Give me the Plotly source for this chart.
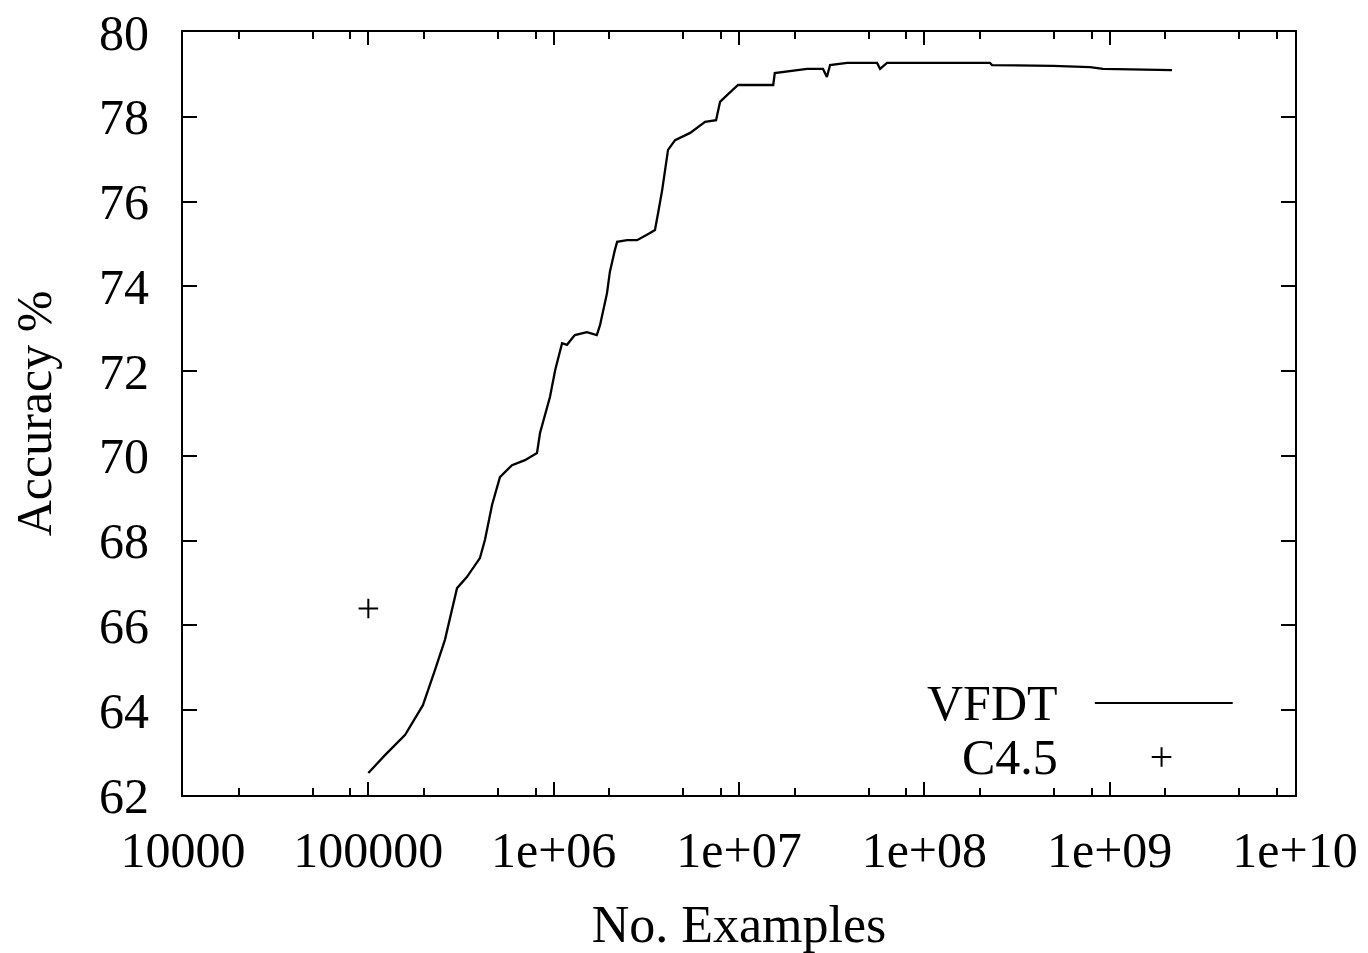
import plotly.graph_objects as go

# VFDT learning curve (No. examples vs accuracy %)
vfdt_x = [1.0e5, 1.23e5, 1.58e5, 1.97e5, 2.29e5, 2.59e5, 3.01e5, 3.40e5, 4.0e5, 4.26e5,
          4.65e5, 5.13e5, 5.96e5, 7.0e5, 8.13e5, 8.44e5, 9.55e5, 1.02e6, 1.11e6, 1.18e6,
          1.30e6, 1.51e6, 1.71e6, 1.78e6, 1.94e6, 2.01e6, 2.14e6, 2.20e6, 2.49e6, 2.82e6,
          3.31e6, 3.52e6, 3.66e6, 3.85e6, 4.14e6, 4.52e6, 5.45e6, 6.56e6, 7.52e6, 7.90e6,
          8.62e6, 9.88e6, 1.25e7, 1.53e7, 1.56e7, 1.88e7, 2.33e7, 2.84e7, 2.98e7, 3.10e7,
          3.83e7, 5.56e7, 5.77e7, 6.29e7, 1.38e8, 2.26e8, 2.32e8, 4.94e8, 7.83e8, 9.21e8,
          2.17e9]
vfdt_y = [62.52, 62.94, 63.42, 64.12, 64.95, 65.66, 66.88, 67.14, 67.59, 68.02,
          68.84, 69.50, 69.78, 69.90, 70.07, 70.54, 71.39, 72.03, 72.66, 72.62,
          72.85, 72.92, 72.85, 73.09, 73.84, 74.34, 74.86, 75.05, 75.09, 75.09,
          75.26, 75.33, 75.73, 76.27, 77.22, 77.45, 77.62, 77.88, 77.92, 78.35,
          78.51, 78.75, 78.75, 78.75, 79.03, 79.08, 79.13, 79.13, 78.94, 79.22,
          79.27, 79.27, 79.13, 79.27, 79.27, 79.27, 79.22, 79.20, 79.17, 79.13,
          79.10]

# C4.5 single result
c45_x = [1.0e5]
c45_y = [66.4]

x_tickvals = [1e4, 1e5, 1e6, 1e7, 1e8, 1e9, 1e10]
x_ticktext = ["10000", "100000", "1e+06", "1e+07", "1e+08", "1e+09", "1e+10"]
x_minor = [m * 10 ** e for e in range(4, 10) for m in (2, 5, 8)]
y_tickvals = [62, 64, 66, 68, 70, 72, 74, 76, 78, 80]

legend_names = ["VFDT", "C4.5"]

FONT = "Liberation Serif"
FS = 50

fig = go.Figure()
fig.add_trace(go.Scatter(x=vfdt_x, y=vfdt_y, mode="lines",
                         line=dict(color="black", width=2.3), showlegend=False))
fig.add_trace(go.Scatter(x=c45_x, y=c45_y, mode="markers",
                         marker=dict(symbol="cross-thin", size=14,
                                     line=dict(color="black", width=2)),
                         showlegend=False))

# legend keys (gnuplot style: text left, sample right) on a hidden 0..1 overlay axis
fig.add_trace(go.Scatter(x=[0.820, 0.944], y=[0.1206, 0.1206], mode="lines",
                         line=dict(color="black", width=2), xaxis="x2", yaxis="y2",
                         showlegend=False, hoverinfo="skip"))
fig.add_trace(go.Scatter(x=[0.880], y=[0.0498], mode="markers",
                         marker=dict(symbol="cross-thin", size=14,
                                     line=dict(color="black", width=2)),
                         xaxis="x2", yaxis="y2", showlegend=False, hoverinfo="skip"))

for name, yp in zip(legend_names, [0.1206, 0.0498]):
    fig.add_annotation(x=0.789, y=yp, xref="paper", yref="paper", text=name,
                       showarrow=False, xanchor="right", yanchor="middle",
                       font=dict(family=FONT, size=FS, color="black"))

axis_common = dict(showgrid=False, zeroline=False, showline=True, linecolor="black",
                   linewidth=2, mirror="allticks", ticks="inside", tickcolor="black",
                   tickwidth=2, automargin=False,
                   tickfont=dict(family=FONT, size=FS, color="black"))

fig.update_layout(
    width=1368, height=953,
    margin=dict(l=183, r=73, t=32, b=158),
    paper_bgcolor="white", plot_bgcolor="white",
    showlegend=False,
    xaxis=dict(type="log", range=[4, 10], tickvals=x_tickvals, ticktext=x_ticktext,
               ticklen=13, ticklabelstandoff=10,
               minor=dict(tickvals=x_minor, ticks="inside", ticklen=7,
                          tickcolor="black", tickwidth=2),
               title=dict(text="No. Examples", font=dict(family=FONT, size=52, color="black"),
                          standoff=30),
               **axis_common),
    yaxis=dict(range=[62, 80], tickvals=y_tickvals, ticklen=14, ticklabelstandoff=22,
               title=dict(text="Accuracy %", font=dict(family=FONT, size=FS, color="black"),
                          standoff=32),
               **axis_common),
    xaxis2=dict(overlaying="x", range=[0, 1], visible=False),
    yaxis2=dict(overlaying="y", range=[0, 1], visible=False),
)

fig.write_html("out.html")
